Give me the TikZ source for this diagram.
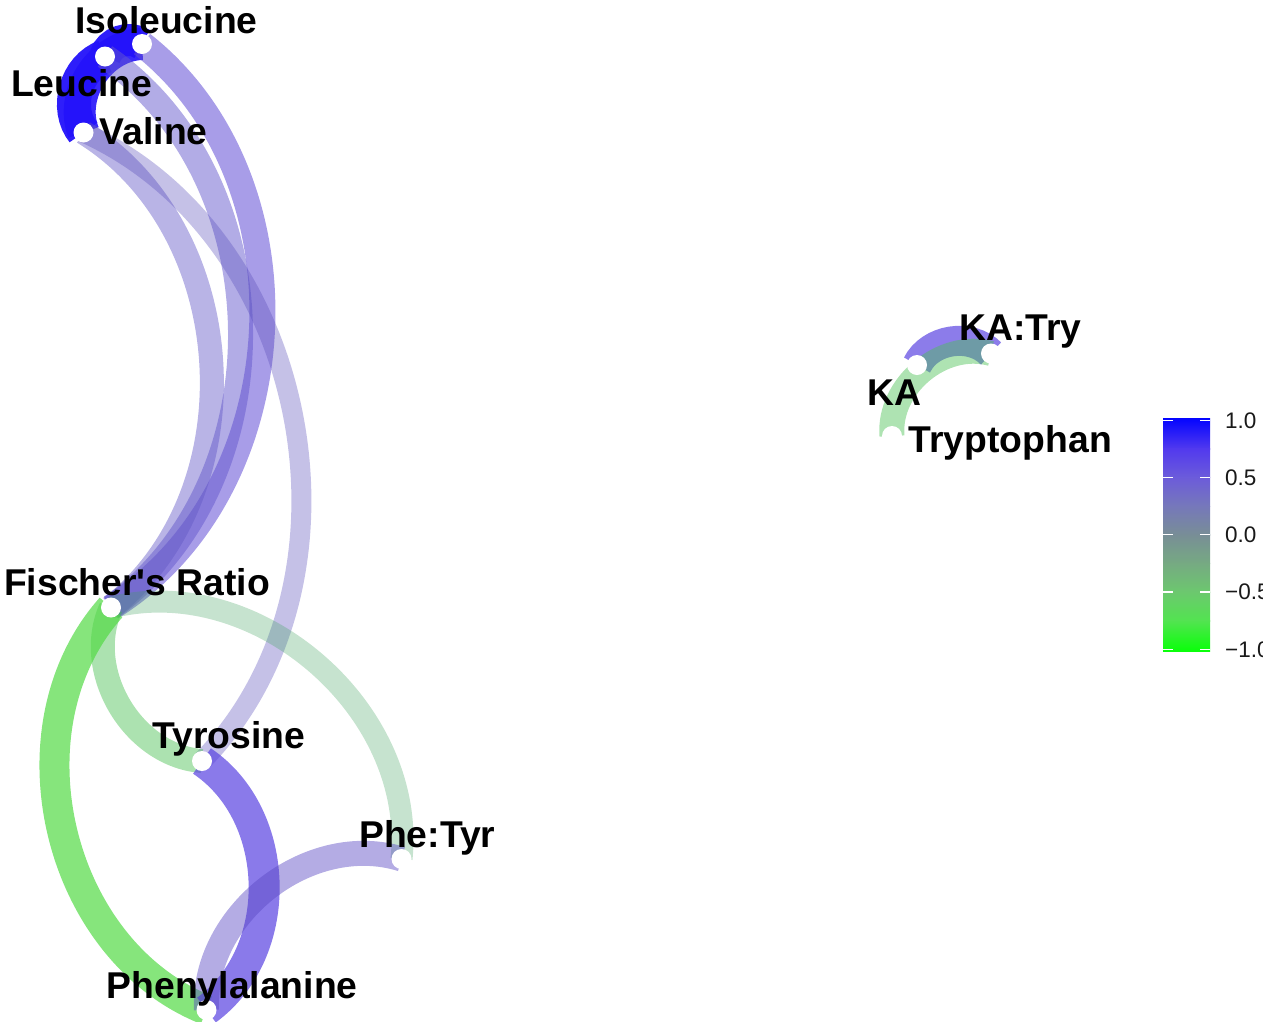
\documentclass[tikz,border=0pt]{standalone}
\usepackage{fontspec}
\setmainfont{Liberation Sans}[Ligatures=TeXOff]
\definecolor{cblue}{RGB}{35,18,250}
\definecolor{cIleFis}{RGB}{97,77,213}
\definecolor{cLeuFis}{RGB}{101,89,205}
\definecolor{cValFis}{RGB}{99,88,199}
\definecolor{cValTyr}{RGB}{89,78,186}
\definecolor{cTyrPhe}{RGB}{88,66,225}
\definecolor{cPtPhe}{RGB}{88,71,195}
\definecolor{cKA}{RGB}{91,69,225}
\definecolor{cFisPhe}{RGB}{82,218,69}
\definecolor{cFisTyr}{RGB}{71,191,79}
\definecolor{cFisPt}{RGB}{65,162,95}
\definecolor{cTryKA}{RGB}{75,193,84}
\definecolor{g100}{RGB}{5,5,255}
\definecolor{g075}{RGB}{82,58,238}
\definecolor{g050}{RGB}{108,92,218}
\definecolor{g025}{RGB}{118,120,186}
\definecolor{g000}{RGB}{120,142,150}
\definecolor{gm025}{RGB}{118,170,130}
\definecolor{gm050}{RGB}{108,200,110}
\definecolor{gm075}{RGB}{82,228,80}
\definecolor{gm100}{RGB}{10,255,10}
\begin{document}
\begin{tikzpicture}[x=1pt,y=-1pt,
  edge/.style={line cap=butt},
  lbl/.style={font=\bfseries\fontsize{37.3}{40}\selectfont, anchor=base west, inner sep=0pt, text=black},
  leg/.style={font=\fontsize{22.5}{24}\selectfont, anchor=west, inner sep=0pt, text=black!90},
  tick/.style={white, line width=1.3pt},
]
\useasboundingbox (0,0) rectangle (1263,1021);
\clip (0,0) rectangle (1263,1021);
% points
\coordinate (ile) at (142,44);
\coordinate (leu) at (105,56.5);
\coordinate (val) at (83.5,132.5);
\coordinate (fis) at (111,607.5);
\coordinate (tyr) at (202,761);
\coordinate (pht) at (401.5,859);
\coordinate (phe) at (206.5,1010);
\coordinate (ka) at (917,365);
\coordinate (kat) at (991,353.5);
\coordinate (try) at (892,436);
% edges
\draw[edge, draw=cblue, draw opacity=0.95, line width=32pt] (ile) to[bend right=55] (leu);
\draw[edge, draw=cblue, draw opacity=0.9, line width=32pt] (ile) to[bend right=55] (val);
\draw[edge, draw=cblue, draw opacity=0.95, line width=34pt] (leu) to[bend right=55] (val);
\draw[edge, draw=cIleFis, draw opacity=0.55, line width=26pt] (ile) to[bend left=55] (fis);
\draw[edge, draw=cLeuFis, draw opacity=0.5, line width=25pt] (leu) to[bend left=55] (fis);
\draw[edge, draw=cValFis, draw opacity=0.45, line width=24pt] (val) to[bend left=55] (fis);
\draw[edge, draw=cValTyr, draw opacity=0.35, line width=20pt] (val) to[bend left=55] (tyr);
\draw[edge, draw=cFisTyr, draw opacity=0.45, line width=24pt] (fis) to[bend right=55] (tyr);
\draw[edge, draw=cFisPt, draw opacity=0.3, line width=22pt] (fis) to[bend left=55] (pht);
\draw[edge, draw=cFisPhe, draw opacity=0.7, line width=30pt] (fis) to[bend right=55] (phe);
\draw[edge, draw=cTyrPhe, draw opacity=0.7, line width=31pt] (tyr) to[bend left=55] (phe);
\draw[edge, draw=cPtPhe, draw opacity=0.45, line width=25pt] (pht) to[bend right=55] (phe);
\draw[edge, draw=cKA, draw opacity=0.7, line width=30pt] (ka) to[bend left=55] (kat);
\draw[edge, draw=cTryKA, draw opacity=0.45, line width=25pt] (try) to[bend left=55] (kat);
% dots
\foreach \p in {ile,leu,val,fis,tyr,pht,phe,ka,kat,try}
  \fill[white] (\p) circle (10);
% labels
\node[lbl] (lile) at (75,33) {Isoleucine};
\node[lbl] (lleu) at (11,96.5) {Leucine};
\node[lbl] (lval) at (99.5,144) {Valine};
\node[lbl] (lfis) at (4,595) {Fischer's Ratio};
\node[lbl] (ltyr) at (152.5,748) {Tyrosine};
\node[lbl] (lpht) at (359,847) {Phe:Tyr};
\node[lbl] (lphe) at (106.5,998) {Phenylalanine};
\node[lbl] (lkat) at (959,340.5) {KA:Try};
\node[lbl] (lka) at (867,405) {KA};
\node[lbl] (ltry) at (908.5,452) {Tryptophan};
% legend
\shade[top color=g100, bottom color=g075] (1163,418.5) rectangle (1210,449.2);
\shade[top color=g075, bottom color=g050] (1163,448.9) rectangle (1210,477.8);
\shade[top color=g050, bottom color=g025] (1163,477.5) rectangle (1210,506.4);
\shade[top color=g025, bottom color=g000] (1163,506.1) rectangle (1210,535.1);
\shade[top color=g000, bottom color=gm025] (1163,534.8) rectangle (1210,563.7);
\shade[top color=gm025, bottom color=gm050] (1163,563.4) rectangle (1210,592.3);
\shade[top color=gm050, bottom color=gm075] (1163,592) rectangle (1210,621);
\shade[top color=gm075, bottom color=gm100] (1163,620.7) rectangle (1210,651);
\foreach \t/\lab in {420.3/1.0, 477.5/0.5, 534.8/0.0, 592/−0.5, 649.3/−1.0}{
  \draw[tick] (1163,\t) -- (1173,\t);
  \draw[tick] (1200,\t) -- (1210,\t);
  \node[leg] at (1225,\t) {\lab};
}
\end{tikzpicture}
\end{document}
